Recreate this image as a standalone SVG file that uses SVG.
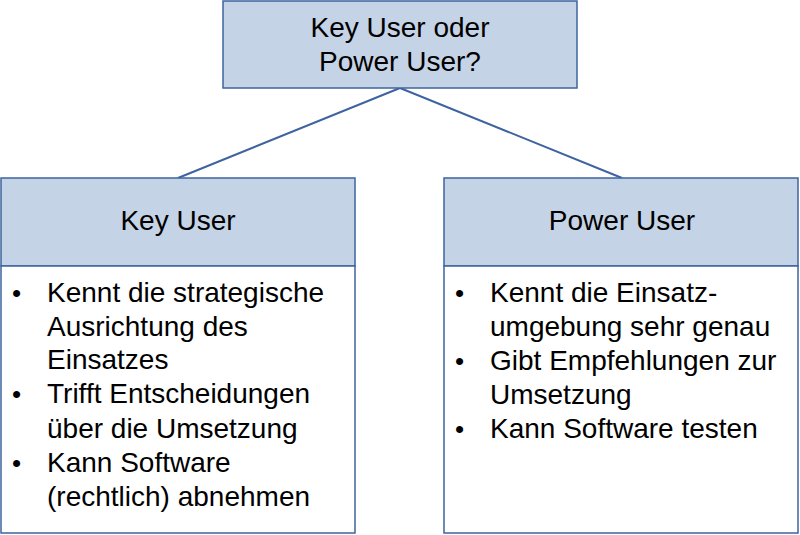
<svg xmlns="http://www.w3.org/2000/svg" width="800" height="535" viewBox="0 0 800 535">
<style>
.box{stroke:#3E64A0;stroke-width:1.5;}
.head{fill:#C5D3E6;}
.body{fill:#FFFFFF;}
.t{font-family:"Liberation Sans",Arial,sans-serif;font-size:28px;fill:#000;}
.b{font-family:"Liberation Sans",Arial,sans-serif;font-size:26px;fill:#000;}
.c{text-anchor:middle;}
.conn{stroke:#3E64A0;stroke-width:2;fill:none;}
</style>
<rect width="800" height="535" fill="#FFFFFF"/>
<g id="connectors">
<line class="conn" x1="400" y1="88" x2="178" y2="178"/>
<line class="conn" x1="400" y1="88" x2="622" y2="178"/>
</g>
<g id="root">
<rect class="box head" x="223" y="1" width="354" height="87"/>
<text class="t c" x="400" y="37">Key User oder</text>
<text class="t c" x="400" y="71">Power User?</text>
</g>
<g id="keyuser">
<rect class="box head" x="1" y="178" width="354" height="88"/>
<rect class="box body" x="1" y="266" width="354" height="267"/>
<text class="t c" x="178" y="230">Key User</text>
<text class="b" x="12" y="302">•</text>
<text class="t" x="47" y="302">Kennt die strategische</text>
<text class="t" x="47" y="336">Ausrichtung des</text>
<text class="t" x="47" y="369">Einsatzes</text>
<text class="b" x="12" y="403">•</text>
<text class="t" x="47" y="403">Trifft Entscheidungen</text>
<text class="t" x="47" y="438">über die Umsetzung</text>
<text class="b" x="12" y="472">•</text>
<text class="t" x="47" y="472">Kann Software</text>
<text class="t" x="47" y="506">(rechtlich) abnehmen</text>
</g>
<g id="poweruser">
<rect class="box head" x="444" y="178" width="354" height="88"/>
<rect class="box body" x="444" y="266" width="354" height="267"/>
<text class="t c" x="622" y="230">Power User</text>
<text class="b" x="455" y="302">•</text>
<text class="t" x="490" y="302">Kennt die Einsatz-</text>
<text class="t" x="490" y="336">umgebung sehr genau</text>
<text class="b" x="455" y="370">•</text>
<text class="t" x="490" y="370">Gibt Empfehlungen zur</text>
<text class="t" x="490" y="404">Umsetzung</text>
<text class="b" x="455" y="438">•</text>
<text class="t" x="490" y="438">Kann Software testen</text>
</g>
</svg>
